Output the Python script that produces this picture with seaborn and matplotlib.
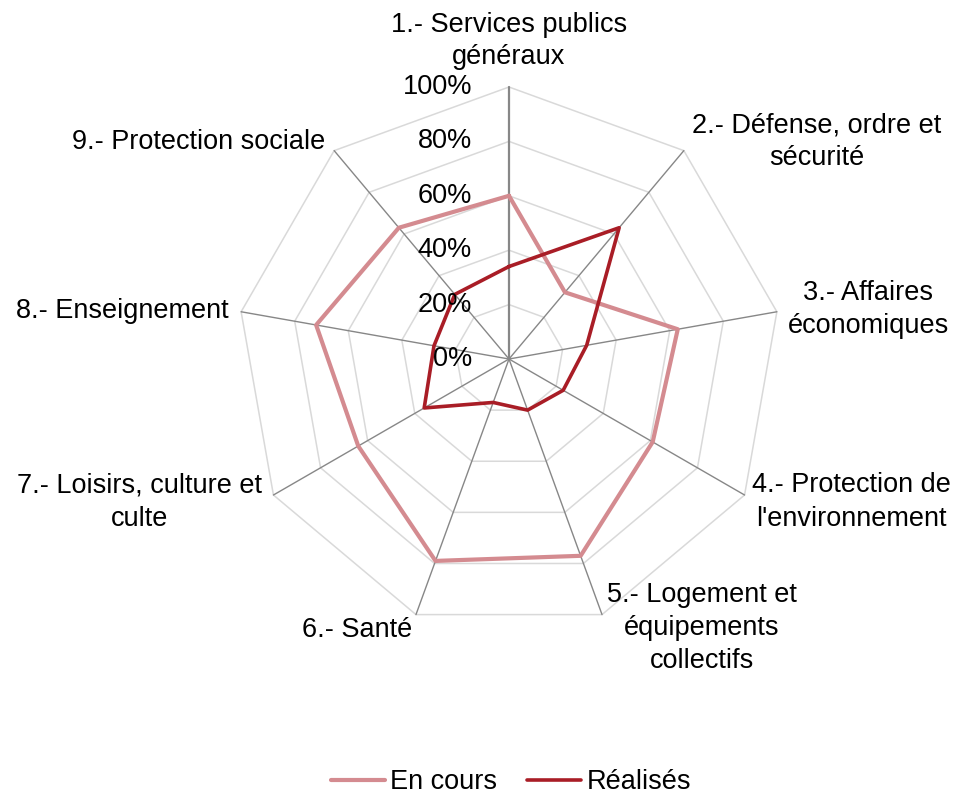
import numpy as np
import pandas as pd
import matplotlib
matplotlib.use("Agg")
import matplotlib.pyplot as plt
import seaborn as sns

categories = [
    "1.- Services publics\ngénéraux",
    "2.- Défense, ordre et\nsécurité",
    "3.- Affaires\néconomiques",
    "4.- Protection de\nl'environnement",
    "5.- Logement et\néquipements\ncollectifs",
    "6.- Santé",
    "7.- Loisirs, culture et\nculte",
    "8.- Enseignement",
    "9.- Protection sociale",
]
en_cours = [60, 32, 63, 61, 77, 79, 64, 72, 63]
realises = [34, 63, 29, 23, 20, 17, 36, 28, 31]
radial_ticks = [0, 20, 40, 60, 80, 100]
series_names = ["En cours", "Réalisés"]

sns.set_theme(style="white")
plt.rcParams["font.family"] = ["Liberation Sans", "DejaVu Sans"]
plt.rcParams["text.color"] = "black"

n = len(categories)
angles = np.arange(n) * 2 * np.pi / n
closed = np.append(angles, angles[0])

rows = []
for name, vals in zip(series_names, [en_cours, realises]):
    for a, v in zip(closed, vals + vals[:1]):
        rows.append({"angle": a, "value": v, "series": name})
df = pd.DataFrame(rows)

W, H = 960, 794
fig = plt.figure(figsize=(W / 100, H / 100), dpi=100)
cx, cy, R = 509, 359, 272
ax = fig.add_axes([(cx - R) / W, (H - cy - R) / H, 2 * R / W, 2 * R / H],
                  projection="polar")
ax.set_theta_zero_location("N")
ax.set_theta_direction(-1)
ax.set_ylim(0, 100)
ax.grid(False)
ax.set_xticks([])
ax.set_yticks([])
ax.spines["polar"].set_visible(False)
ax.set_facecolor("none")

# nonagon rings and spokes
for r in radial_ticks[1:]:
    ax.plot(closed, [r] * len(closed), color="#d9d9d9", lw=1.1, zorder=1, clip_on=False)
for i, a in enumerate(angles):
    ax.plot([a, a], [0, 100], color="#878787", lw=1.6 if i == 0 else 1.0,
            zorder=1, clip_on=False)

colors = {"En cours": "#D48B90", "Réalisés": "#A91D26"}
widths = {"En cours": 3.0, "Réalisés": 2.6}
for name in series_names:
    sns.lineplot(data=df[df["series"] == name], x="angle", y="value",
                 sort=False, estimator=None, color=colors[name],
                 linewidth=widths[name], label=name, ax=ax, zorder=3)
    ax.lines[-1].set_clip_on(False)
ax.get_legend().remove()
ax.set_xlabel("")
ax.set_ylabel("")

fs = 19.5
for r in radial_ticks:
    ax.annotate(f"{r}%", xy=(0, r), xytext=(-37, 0), textcoords="offset pixels",
                ha="right", va="center", fontsize=fs, color="black", zorder=4)

label_offsets = [(0, 46), (8, 9), (11, 2), (7, -7), (5, -13),
                 (-4, -15), (-11, -7), (-13, 1), (-9, 9)]
label_ha = ["center", "left", "left", "left", "left",
            "right", "right", "right", "right"]
for a, lab, off, ha in zip(angles, categories, label_offsets, label_ha):
    ax.annotate(lab, xy=(a, 100), xytext=off, textcoords="offset pixels",
                ha=ha, va="center", multialignment="center", linespacing=1.35,
                fontsize=fs, color="black")

handles, labels = ax.get_legend_handles_labels()
fig.legend(handles, labels, loc="center", bbox_to_anchor=(511 / W, 1 - 782 / H),
           ncol=2, frameon=False, fontsize=fs, handlelength=2.0,
           handletextpad=0.2, columnspacing=1.1, labelcolor="black")

fig.savefig("out.png", dpi=100)
